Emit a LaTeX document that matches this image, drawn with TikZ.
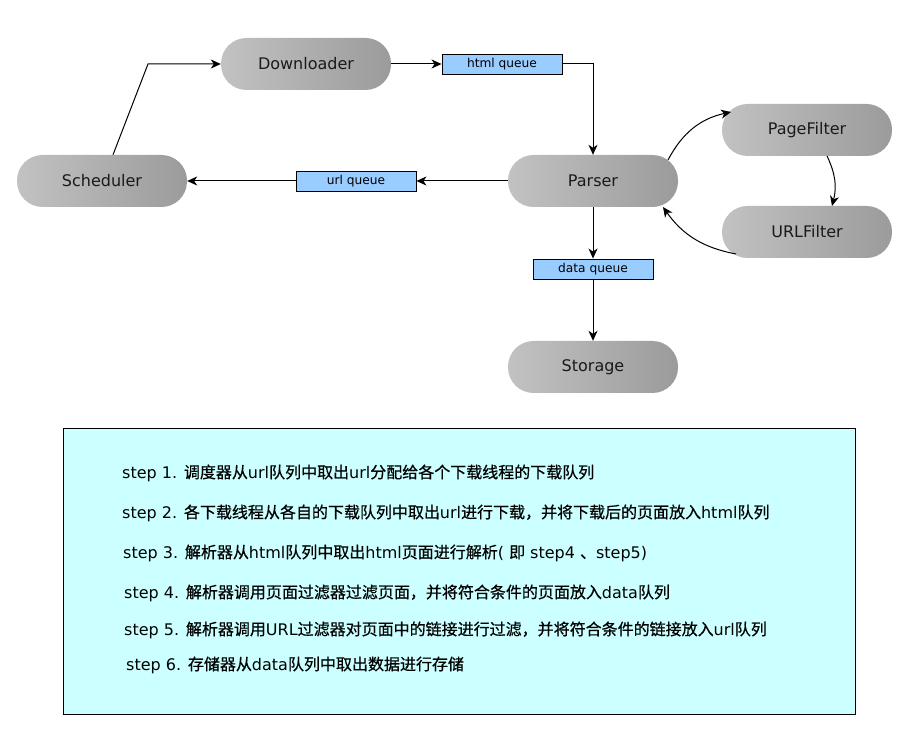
\documentclass[tikz,border=0pt]{standalone}
\usepackage{fontspec}
\setmainfont{DejaVu Sans}
\newfontfamily\cjk{Noto Sans CJK SC}[FakeBold=0.6]
\usetikzlibrary{arrows.meta,calc}
\newcommand\zh[1]{{\cjk #1}}
\definecolor{nodeL}{HTML}{C2C2C2}
\definecolor{nodeR}{HTML}{9B9B9B}
\definecolor{qfill}{HTML}{99CCFF}
\definecolor{boxfill}{HTML}{CCFFFF}
\definecolor{txt}{HTML}{1A1A1A}
\tikzset{
  proc/.style={rectangle, rounded corners=25.5pt, minimum width=170pt, minimum height=52pt,
    left color=nodeL, right color=nodeR, draw=none, text=txt,
    font=\fontsize{16}{18}\selectfont, inner sep=0pt},
  queue/.style={rectangle, draw=black, line width=0.9pt, fill=qfill, minimum width=120pt,
    minimum height=20pt, inner sep=0pt, font=\fontsize{12.2}{14}\selectfont},
  conn/.style={line width=1pt, -{Stealth[length=10pt,width=9pt,inset=3pt]}},
  steptext/.style={anchor=west, inner sep=0pt, font=\fontsize{16}{18}\selectfont, text=black}
}
\begin{document}
\begin{tikzpicture}[x=1pt,y=-1pt]
\useasboundingbox (0,0) rectangle (911,751);
\node[proc] (down) at (306,64) {Downloader};
\node[proc] (sched) at (102,181) {Scheduler};
\node[proc] (parser) at (593,181) {Parser};
\node[proc] (page) at (807,130) {PageFilter};
\node[proc] (urlf) at (807,232) {URLFilter};
\node[proc] (store) at (593,367) {Storage};
\node[queue] (hq) at (502,64) {html queue};
\node[queue] (uq) at (356,181) {url queue};
\node[queue] (dq) at (593,269) {data queue};
\coordinate (c1) at (148,64);
\draw[conn] ([xshift=11pt]sched.north) -- (c1) -- (down.west);
\draw[conn] (down.east) -- (hq.west);
\draw[conn] (hq.east) -| (parser.north);
\draw[conn] (parser.west) -- (uq.east);
\draw[conn] (uq.west) -- (sched.east);
\draw[conn] (parser.south) -- (dq.north);
\draw[conn] (dq.south) -- (store.north);
\draw[conn] ([shift={(75,-21)}]parser.center) to[bend left=25] ([shift={(-76,-18)}]page.center);
\draw[conn] ([shift={(20,26)}]page.center) to[bend left=20] ([shift={(25,-26)}]urlf.center);
\draw[conn] ([shift={(-71,22)}]urlf.center) to[bend left=22] ([shift={(70,26)}]parser.center);
\node[draw=black, line width=0.8pt, fill=boxfill, minimum width=792pt, minimum height=286pt, anchor=north west, inner sep=0pt] (box) at (63,428) {};
\node[steptext] (s1) at (122,473) {step 1. \zh{调度器从}url\zh{队列中取出}url\zh{分配给各个下载线程的下载队列}};
\node[steptext] (s2) at (122,513) {step 2. \zh{各下载线程从各自的下载队列中取出}url\zh{进行下载，并将下载后的页面放入}html\zh{队列}};
\node[steptext] (s3) at (123,553) {step 3. \zh{解析器从}html\zh{队列中取出}html\zh{页面进行解析}( \zh{即} step4 \zh{、}step5)};
\node[steptext] (s4) at (124,593) {step 4. \zh{解析器调用页面过滤器过滤页面，并将符合条件的页面放入}data\zh{队列}};
\node[steptext] (s5) at (124,630) {step 5. \zh{解析器调用}URL\zh{过滤器对页面中的链接进行过滤，并将符合条件的链接放入}url\zh{队列}};
\node[steptext] (s6) at (126,665) {step 6. \zh{存储器从}data\zh{队列中取出数据进行存储}};
\end{tikzpicture}
\end{document}
